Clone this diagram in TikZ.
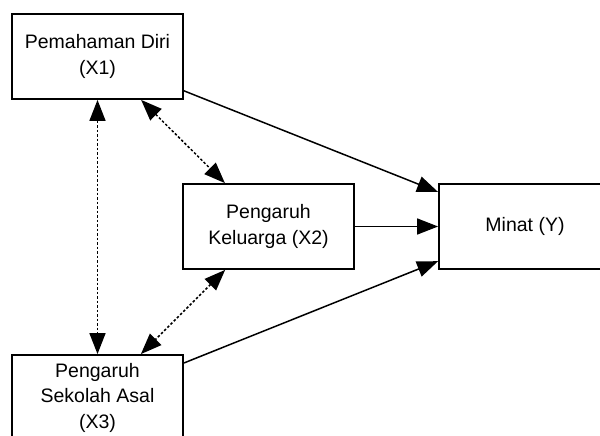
\documentclass[tikz,border=0pt]{standalone}
\usepackage{fontspec}
\setmainfont{Liberation Sans}
\usetikzlibrary{arrows.meta}
\begin{document}
\begin{tikzpicture}[x=1pt,y=-1pt,
  varbox/.style={draw, line width=1.8pt, fill=white, minimum width=171pt,
    minimum height=85pt, inner sep=0pt, align=center,
    font=\fontsize{19.5}{25.5}\selectfont},
  effect/.style={line width=1.5pt, -{Triangle[length=21pt,width=16pt]}},
  correl/.style={line width=1.5pt, dash pattern=on 2.5pt off 2pt,
    {Triangle[length=21pt,width=16pt]}-{Triangle[length=21pt,width=16pt]}}]
  \useasboundingbox (0,0) rectangle (600,436);
  \clip (0,0) rectangle (600,436);

  % variables
  \node[varbox] (x1) at (97.5,56.5)  {Pemahaman Diri\\(X1)};
  \node[varbox] (x2) at (268.5,226.5) {Pengaruh\\Keluarga (X2)};
  \node[varbox] (x3) at (97.5,397.5) {Pengaruh\\Sekolah Asal\\(X3)};
  \node[varbox, minimum width=172pt] (y) at (525,226.5) {Minat (Y)};

  % direct effects on Y
  \draw[effect] (x1) -- (y);
  \draw[effect] (x2) -- (y);
  \draw[effect] (x3) -- (y);

  % correlations among the predictors
  \draw[correl] (x1) -- (x3);
  \draw[correl] (x1) -- (x2);
  \draw[correl] (x2) -- (x3);
\end{tikzpicture}
\end{document}
